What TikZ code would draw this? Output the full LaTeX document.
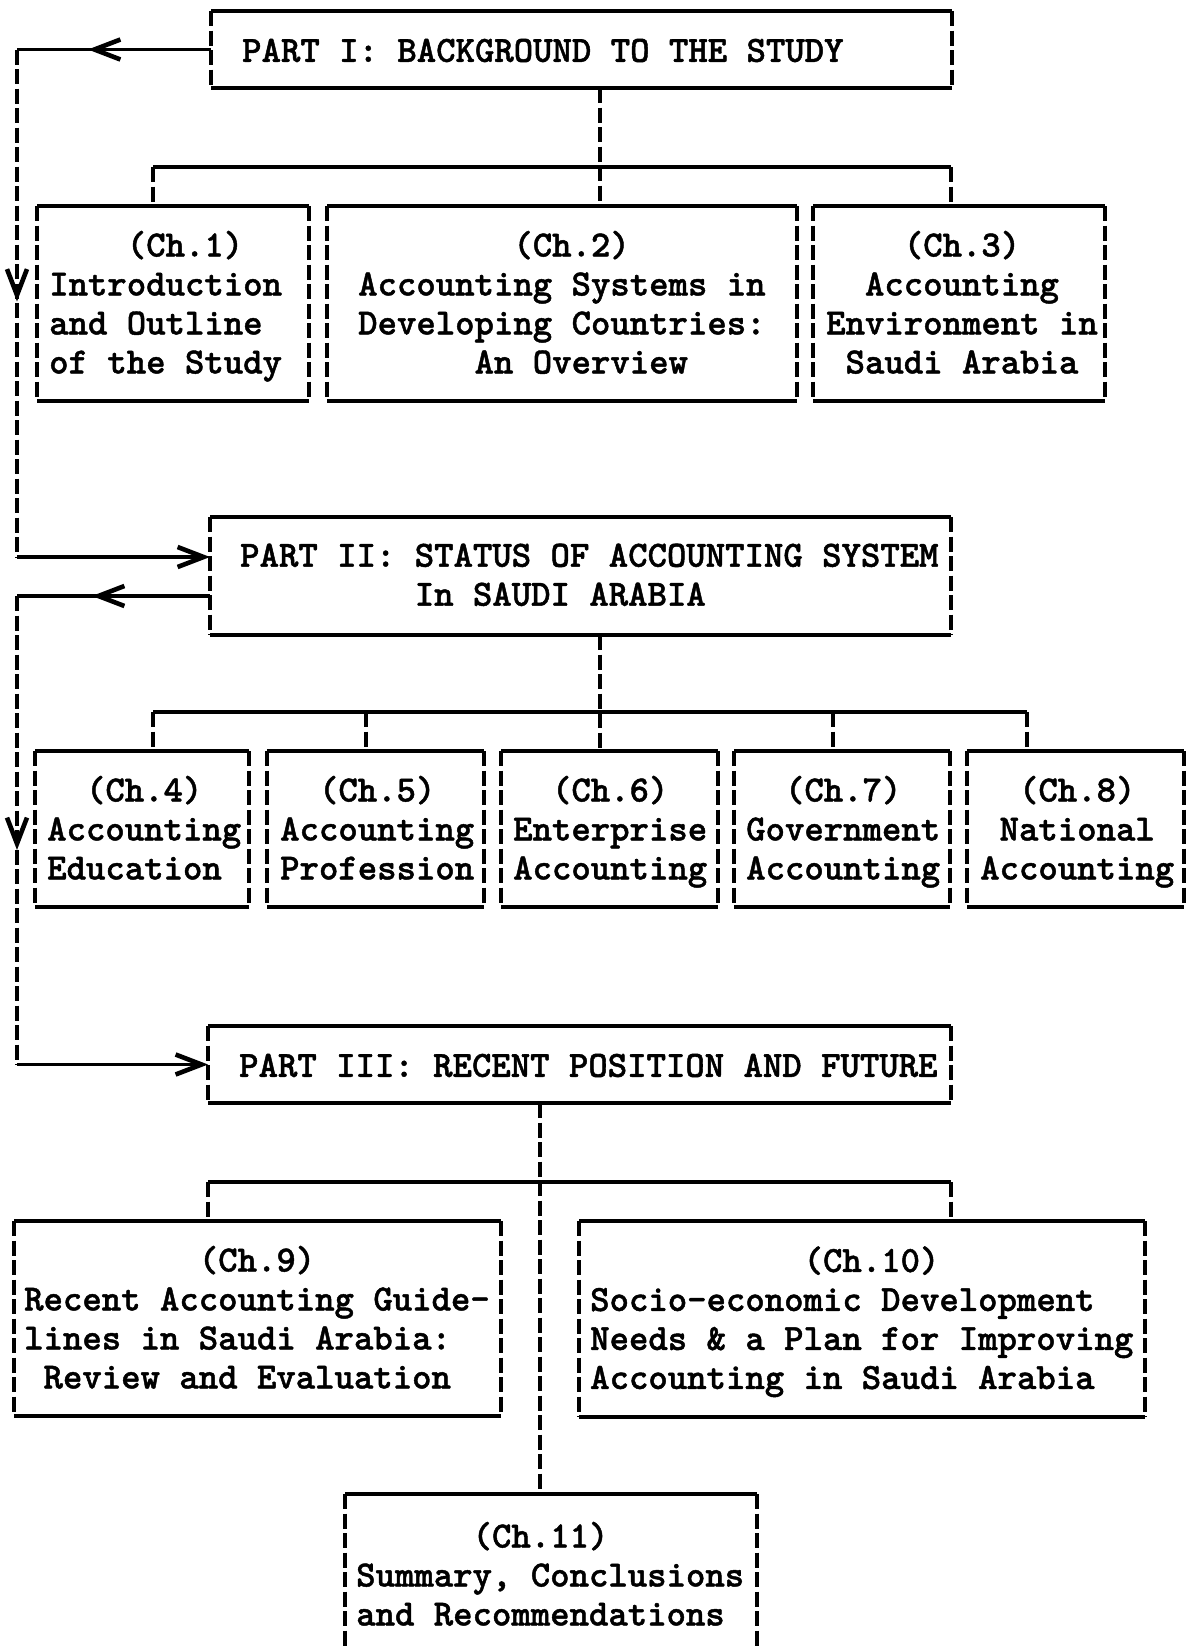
\documentclass[tikz,border=0pt]{standalone}
\usepackage{fontspec}
\usetikzlibrary{arrows.meta,decorations.markings}
% bold typewriter face for all box texts
\newfontfamily\typefont{lmmonolt10-bold.otf}[FakeBold=1.2]
% width of one typewriter character
\newlength\cw
\setlength\cw{19.4pt}
\newcommand\tgap[1]{\hspace*{#1\cw}}
\tikzset{
  barbtip/.tip={Straight Barb[length=26pt,width=20pt,line width=4.6pt 0]},
  hrule/.style={line width=3.3pt},
  vrule/.style={line width=3.6pt, dash pattern=on 15pt off 4.5pt},
  frame/.style={inner sep=0pt, outer sep=0pt, anchor=north west,
    append after command={
      (\tikzlastnode.north west) edge[hrule] (\tikzlastnode.north east)
      (\tikzlastnode.south west) edge[hrule] (\tikzlastnode.south east)
      (\tikzlastnode.north west) edge[vrule] (\tikzlastnode.south west)
      (\tikzlastnode.north east) edge[vrule] (\tikzlastnode.south east)}},
  typed/.style={anchor=west, align=left, inner sep=0pt, yshift=-4.5pt,
    font=\typefont\fontsize{36.95}{39}\selectfont\frenchspacing,
    execute at begin node=\strut, execute at end node=\strut},
  barb at/.style={postaction={decorate, decoration={markings,
      mark=at position #1 with {\arrow{barbtip}}}}},
}
\begin{document}
\begin{tikzpicture}[x=1pt, y=-1pt]
\useasboundingbox (0,0) rectangle (1187,1650);
\clip (0,0) rectangle (1187,1650);
\fill[white] (0,0) rectangle (1187,1650);

% ---- boxes ----
\node[frame, minimum width=741pt, minimum height=77pt]  (p1)   at (211,11)   {};
\node[frame, minimum width=272pt, minimum height=195pt] (ch1)  at (37,206)   {};
\node[frame, minimum width=470pt, minimum height=195pt] (ch2)  at (327,206)  {};
\node[frame, minimum width=292pt, minimum height=195pt] (ch3)  at (813,206)  {};
\node[frame, minimum width=741pt, minimum height=118pt] (p2)   at (210,517)  {};
\node[frame, minimum width=214pt, minimum height=156pt] (ch4)  at (35,751)   {};
\node[frame, minimum width=217pt, minimum height=156pt] (ch5)  at (267,751)  {};
\node[frame, minimum width=217pt, minimum height=156pt] (ch6)  at (501,751)  {};
\node[frame, minimum width=216pt, minimum height=156pt] (ch7)  at (734,751)  {};
\node[frame, minimum width=217pt, minimum height=156pt] (ch8)  at (967,751)  {};
\node[frame, minimum width=743pt, minimum height=77pt]  (p3)   at (208,1026) {};
\node[frame, minimum width=487pt, minimum height=195pt] (ch9)  at (14,1221)  {};
\node[frame, minimum width=566pt, minimum height=196pt] (ch10) at (579,1221) {};
\node[frame, minimum width=412pt, minimum height=240pt] (ch11) at (345,1494) {};

% ---- typed texts ----
\node[typed, xshift=31pt] (p1t) at (p1.west) {PART I: BACKGROUND TO THE STUDY};
\node[typed, xshift=12pt] (ch1t) at (ch1.west)
  {\tgap{4}(Ch.1)\\Introduction\\and Outline\\of the Study};
\node[typed, xshift=31pt] (ch2t) at (ch2.west)
  {\tgap{8}(Ch.2)\\Accounting Systems in\\Developing Countries:\\\tgap{6}An Overview};
\node[typed, xshift=13pt] (ch3t) at (ch3.west)
  {\tgap{4}(Ch.3)\\\tgap{2}Accounting\\Environment in\\\tgap{1}Saudi Arabia};
\node[typed, xshift=30pt] (p2t) at (p2.west)
  {PART II: STATUS OF ACCOUNTING SYSTEM\\\tgap{9}In SAUDI ARABIA};
\node[typed, xshift=12pt] (ch4t) at (ch4.west) {\tgap{2}(Ch.4)\\Accounting\\Education};
\node[typed, xshift=13pt] (ch5t) at (ch5.west) {\tgap{2}(Ch.5)\\Accounting\\Profession};
\node[typed, xshift=12pt] (ch6t) at (ch6.west) {\tgap{2}(Ch.6)\\Enterprise\\Accounting};
\node[typed, xshift=12pt] (ch7t) at (ch7.west) {\tgap{2}(Ch.7)\\Government\\Accounting};
\node[typed, xshift=13pt] (ch8t) at (ch8.west) {\tgap{2}(Ch.8)\\\tgap{1}National\\Accounting};
\node[typed, xshift=31pt] (p3t) at (p3.west) {PART III: RECENT POSITION AND FUTURE};
\node[typed, xshift=10pt] (ch9t) at (ch9.west)
  {\tgap{9}(Ch.9)\\Recent Accounting Guide-\\lines in Saudi Arabia:\\\tgap{1}Review and Evaluation};
\node[typed, xshift=11pt] (ch10t) at (ch10.west)
  {\tgap{11}(Ch.10)\\Socio-economic Development\\Needs \& a Plan for Improving\\Accounting in Saudi Arabia};
\node[typed] (ch11t) at ([shift={(11,81)}]ch11.north west)
  {\tgap{6}(Ch.11)\\Summary, Conclusions\\and Recommendations};

% ---- reading-order loop on the left ----
\coordinate (L) at (17,0);
\coordinate (in2) at (17,557);
\coordinate (out2) at (17,596);
\coordinate (in3) at (p3.west -| L);
\draw[hrule, barb at=123pt] (p1.west) -- (p1.west -| L);
\draw[vrule, barb at=252pt] (p1.west -| L) -- (in2);
\draw[hrule, -{barbtip}] (in2) -- (in2 -| p2.west);
\draw[hrule, barb at=118pt] (out2 -| p2.west) -- (out2);
\draw[vrule, barb at=254pt] (out2) -- (in3);
\draw[hrule, -{barbtip}] (in3) -- (p3.west);

% ---- Part I tree ----
\coordinate (j1b) at (600,167);
\coordinate (j1a) at (153,167);
\coordinate (j1c) at (951,167);
\draw[hrule] (j1a) -- (j1c);
\draw[vrule] (p1.south -| j1b) -- (j1b |- ch2.north);
\draw[vrule] (j1a) -- (j1a |- ch1.north);
\draw[vrule] (j1c) -- (j1c |- ch3.north);

% ---- Part II tree ----
\coordinate (j2a) at (153,712);
\coordinate (j2b) at (366,712);
\coordinate (j2c) at (600,712);
\coordinate (j2d) at (833,712);
\coordinate (j2e) at (1027,712);
\draw[hrule] (j2a) -- (j2e);
\draw[vrule] (p2.south -| j2c) -- (j2c |- ch6.north);
\draw[vrule] (j2a) -- (j2a |- ch4.north);
\draw[vrule] (j2b) -- (j2b |- ch5.north);
\draw[vrule] (j2d) -- (j2d |- ch7.north);
\draw[vrule] (j2e) -- (j2e |- ch8.north);

% ---- Part III tree ----
\coordinate (j3b) at (540,1182);
\coordinate (j3a) at (208,1182);
\coordinate (j3c) at (951,1182);
\draw[hrule] (j3a) -- (j3c);
\draw[vrule] (p3.south -| j3b) -- (j3b |- ch11.north);
\draw[vrule] (j3a) -- (j3a |- ch9.north);
\draw[vrule] (j3c) -- (j3c |- ch10.north);
\end{tikzpicture}
\end{document}
